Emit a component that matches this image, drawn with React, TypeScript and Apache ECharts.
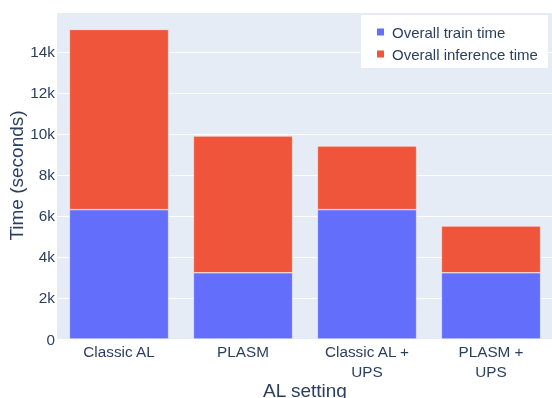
import React, { useEffect, useRef } from "react";
import * as echarts from "echarts";

const categories = ["Classic AL", "PLASM", "Classic AL +\nUPS", "PLASM +\nUPS"];
const trainTime = [6310, 3230, 6310, 3230];
const inferenceTime = [8790, 6670, 3100, 2280];
const seriesNames = ["Overall train time", "Overall inference time"];
const colors = ["#636EFA", "#EF553B"];

const FONT = "'Liberation Sans', Arial, sans-serif";
const TEXT = "#2a3f5f";

export default function App() {
  const ref = useRef<HTMLDivElement>(null);
  useEffect(() => {
    if (!ref.current) return;
    const chart = echarts.init(ref.current, undefined, { renderer: "svg" });
    chart.setOption({
      animation: false,
      textStyle: { fontFamily: FONT, color: TEXT },
      grid: {
        left: 57,
        top: 12,
        width: 496,
        height: 327,
        show: true,
        containLabel: false,
        outerBoundsMode: "none",
        backgroundColor: "#E5ECF6",
        borderWidth: 0,
      },
      legend: {
        orient: "vertical",
        left: 361,
        top: 15,
        padding: [7, 10, 4, 14],
        backgroundColor: "#ffffff",
        itemWidth: 9,
        itemHeight: 9,
        itemGap: 2,
        icon: "rect",
        textStyle: {
          fontFamily: FONT,
          fontSize: 15,
          color: TEXT,
          lineHeight: 20,
          padding: [0, 0, 0, 2],
        },
        data: seriesNames,
      },
      xAxis: {
        type: "category",
        data: categories,
        name: "AL setting",
        nameLocation: "middle",
        nameGap: 42,
        nameMoveOverlap: false,
        nameTextStyle: { fontFamily: FONT, fontSize: 19, color: TEXT },
        axisLine: { show: false },
        axisTick: { show: false },
        axisLabel: {
          fontFamily: FONT,
          fontSize: 15.3,
          color: TEXT,
          lineHeight: 20,
          margin: 2,
          interval: 0,
        },
      },
      yAxis: {
        type: "value",
        min: 0,
        max: 15950,
        interval: 2000,
        name: "Time (seconds)",
        nameLocation: "middle",
        nameGap: 31,
        nameMoveOverlap: false,
        nameTextStyle: { fontFamily: FONT, fontSize: 19, color: TEXT },
        axisLine: { show: false },
        axisTick: { show: false },
        splitLine: { lineStyle: { color: "#ffffff", width: 1 } },
        axisLabel: {
          fontFamily: FONT,
          fontSize: 15.3,
          color: TEXT,
          margin: 2,
          showMaxLabel: false,
          formatter: (v: number) => (v === 0 ? "0" : v / 1000 + "k"),
        },
      },
      series: [
        {
          name: seriesNames[0],
          type: "bar",
          stack: "total",
          data: trainTime,
          barCategoryGap: "20%",
          itemStyle: { color: colors[0], borderColor: "#ffffff", borderWidth: 0.5 },
        },
        {
          name: seriesNames[1],
          type: "bar",
          stack: "total",
          data: inferenceTime,
          barCategoryGap: "20%",
          itemStyle: { color: colors[1], borderColor: "#ffffff", borderWidth: 0.5 },
        },
      ],
    });
    return () => chart.dispose();
  }, []);
  return (
    <div
      ref={ref}
      style={{ position: "fixed", left: 0, top: 0, width: 552, height: 398 }}
    />
  );
}
